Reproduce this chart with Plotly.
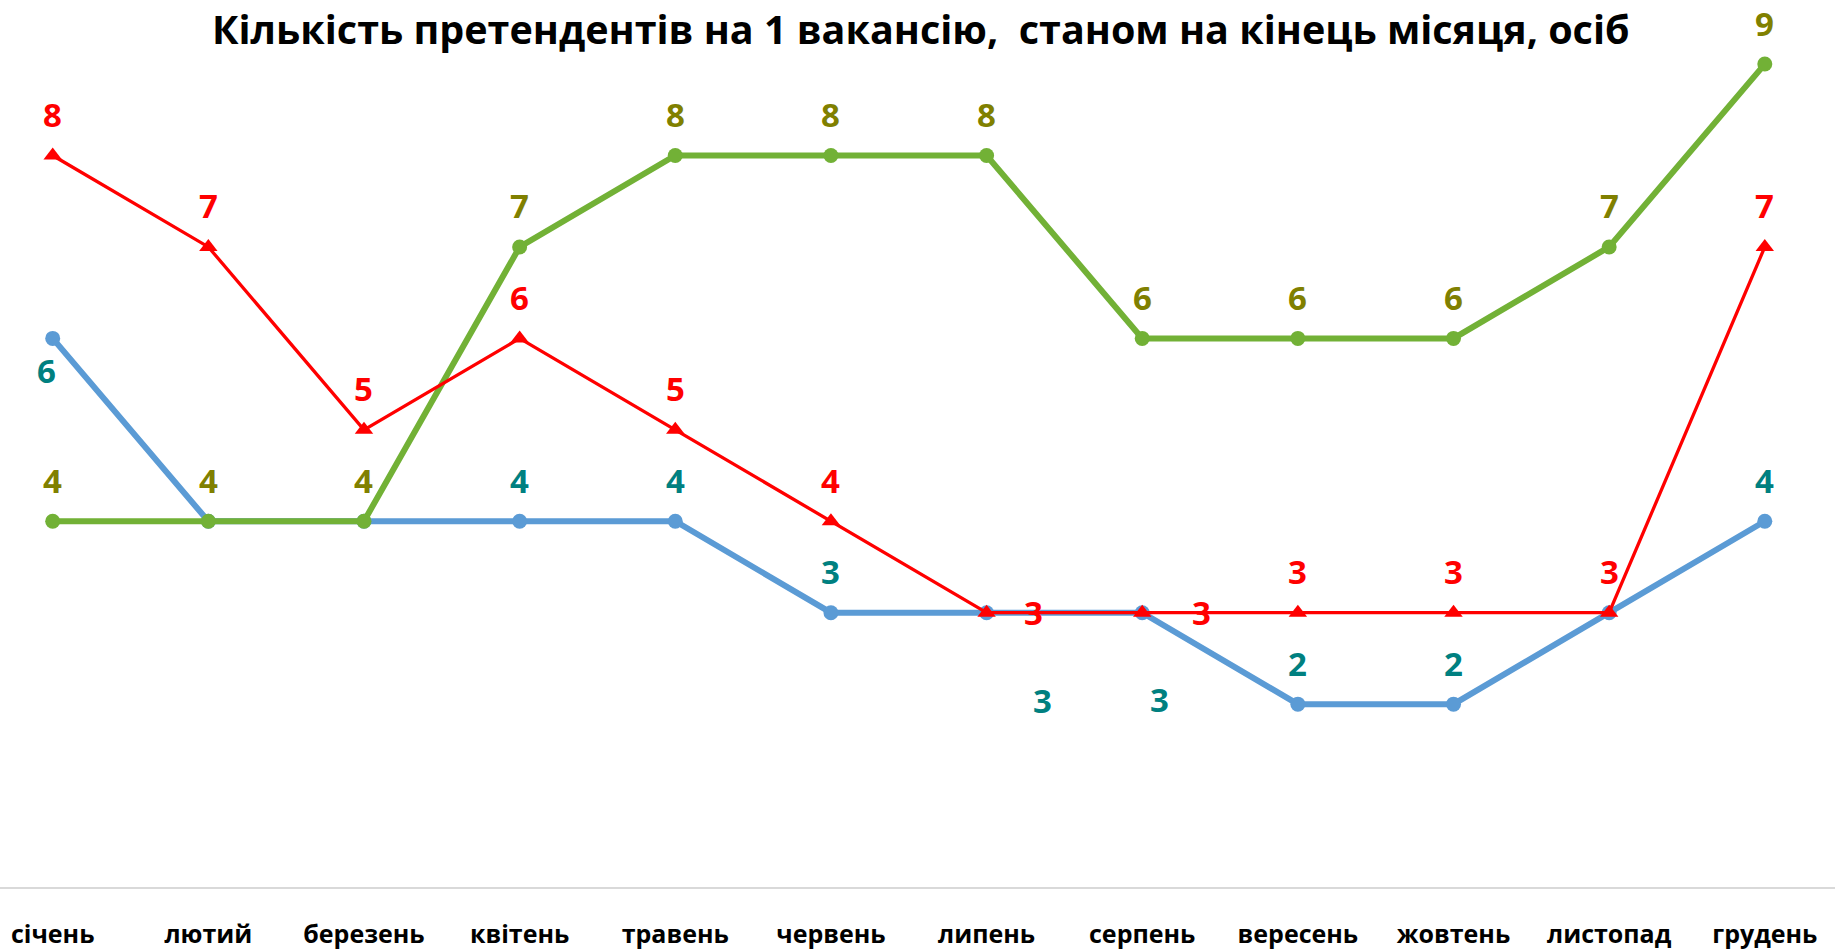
import plotly.graph_objects as go

months = ["січень", "лютий", "березень", "квітень", "травень", "червень",
          "липень", "серпень", "вересень", "жовтень", "листопад", "грудень"]
series_green = [4, 4, 4, 7, 8, 8, 8, 6, 6, 6, 7, 9]
series_blue = [6, 4, 4, 4, 4, 3, 3, 3, 2, 2, 3, 4]
series_red = [8, 7, 5, 6, 5, 4, 3, 3, 3, 3, 3, 7]
title_text = "Кількість претендентів на 1 вакансію,  станом на кінець місяця, осіб"

x = list(range(len(months)))

# label offsets (px): default above point; some special ones
default_shift = (0, 41)
blue_hidden = {1, 2, 10}   # covered by other series' labels
blue_special = {0: (-6, -32), 6: (56, -88), 7: (17, -87)}
red_special = {6: (47, 0), 7: (59, 0)}

FONT = "Open Sans"
LBL = 33

fig = go.Figure()
fig.add_trace(go.Scatter(x=x, y=series_blue, mode="lines+markers",
                         line=dict(color="#5B9BD5", width=6),
                         marker=dict(symbol="circle", size=15, color="#5B9BD5"),
                         showlegend=False, hoverinfo="skip"))
fig.add_trace(go.Scatter(x=x, y=series_green, mode="lines+markers",
                         line=dict(color="#72B136", width=6),
                         marker=dict(symbol="circle", size=15, color="#72B136"),
                         showlegend=False, hoverinfo="skip"))
fig.add_trace(go.Scatter(x=x, y=series_red, mode="lines+markers",
                         line=dict(color="#FF0000", width=3.3),
                         marker=dict(symbol="triangle-up", size=16, color="#FF0000"),
                         showlegend=False, hoverinfo="skip"))

annotations = []
def add_labels(vals, color, special=None, hidden=None):
    special = special or {}
    hidden = hidden or set()
    for i, v in enumerate(vals):
        if i in hidden:
            continue
        dx, dy = special.get(i, default_shift)
        annotations.append(dict(x=i, y=v, xref="x", yref="y", text=str(v),
                                showarrow=False, xshift=dx, yshift=dy,
                                xanchor="center", yanchor="middle",
                                font=dict(family=FONT, size=LBL, color=color, weight="bold")))

add_labels(series_blue, "#008080", blue_special, blue_hidden)
add_labels(series_green, "#808000")
add_labels(series_red, "#FF0000", red_special)

annotations.append(dict(text=title_text, xref="paper", yref="paper", x=0.502, y=1,
                        xanchor="center", yanchor="top", yshift=20, showarrow=False,
                        font=dict(family=FONT, size=39.5, color="#000000", weight="bold")))

fig.update_layout(
    width=1835, height=950,
    margin=dict(l=0, r=0, t=20, b=57),
    paper_bgcolor="white", plot_bgcolor="white",
    annotations=annotations,
    xaxis=dict(range=[-0.3386, 11.451], tickmode="array", tickvals=x, ticktext=months,
               showgrid=False, zeroline=False, showline=True, linecolor="#D9D9D9",
               linewidth=2, ticks="", ticklabelstandoff=24,
               tickfont=dict(family=FONT, size=25, color="#000000", weight="bold")),
    yaxis=dict(range=[0, 9.482], visible=False, showgrid=False, zeroline=False),
)

fig.write_html("out.html", config={"displayModeBar": False},
               post_script="document.body.style.margin='0';document.body.style.overflow='hidden';")
